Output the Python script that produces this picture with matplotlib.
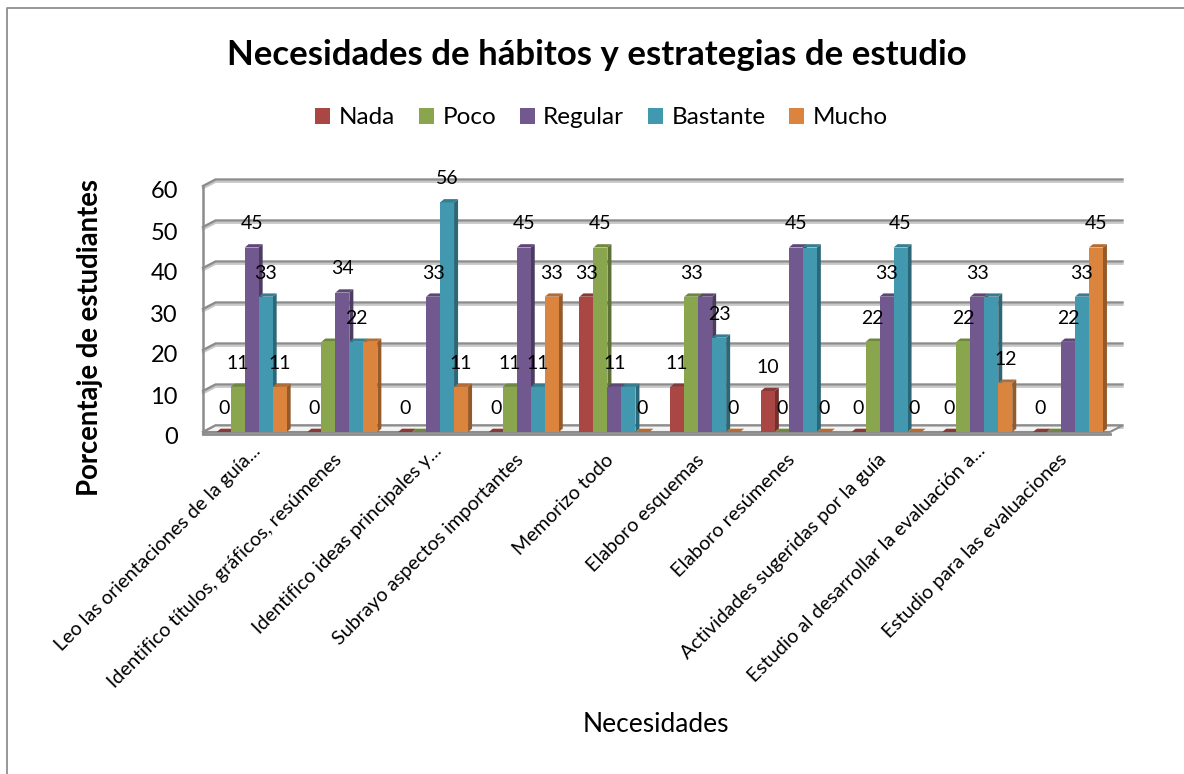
import matplotlib
matplotlib.use('Agg')
import matplotlib.pyplot as plt
import matplotlib.patheffects as pe
from matplotlib.colors import to_rgb
from matplotlib.patches import Polygon
from matplotlib.lines import Line2D
from matplotlib.transforms import ScaledTranslation
import numpy as np

plt.rcParams['font.family'] = ['Lato', 'DejaVu Sans']

titulo = 'Necesidades de hábitos y estrategias de estudio'
categorias = ['Leo las orientaciones de la guía...',
              'Identifico títulos, gráficos, resúmenes',
              'Identifico ideas principales y...',
              'Subrayo aspectos importantes',
              'Memorizo todo',
              'Elaboro esquemas',
              'Elaboro resúmenes',
              'Actividades sugeridas por la guía',
              'Estudio al desarrollar la evaluación a...',
              'Estudio para las evaluaciones']
nada = [0, 0, 0, 0, 33, 11, 10, 0, 0, 0]
poco = [11, 22, 0, 11, 45, 33, 0, 22, 22, 0]
regular = [45, 34, 33, 45, 11, 33, 45, 33, 33, 22]
bastante = [33, 22, 56, 11, 11, 23, 45, 45, 33, 33]
mucho = [11, 22, 11, 33, 0, 0, 0, 0, 12, 45]
series = ['Nada', 'Poco', 'Regular', 'Bastante', 'Mucho']
colores = ['#AA4643', '#89A54E', '#71588F', '#4198AF', '#DB843D']
ticks_y = [0, 10, 20, 30, 40, 50, 60]
# data labels the original chart does not show: (series, category)
sin_etiqueta = [(1, 1), (4, 1), (1, 2), (3, 4), (2, 5), (3, 6), (3, 8), (1, 9)]

W, H = 1184, 774
fig = plt.figure(figsize=(W / 100, H / 100), dpi=100)
# axes = front plane of the fake 3D box
ax = fig.add_axes([203 / W, 1 - 432 / H, 907 / W, 246 / H])
ax.set_xlim(-0.5, 9.5)
ax.set_ylim(0, 60)
for s in ax.spines.values():
    s.set_visible(False)
ax.patch.set_visible(False)

px = 1 / 90.7   # one pixel in x data units
py = 1 / 4.1    # one pixel in y data units
prof_x, prof_y = 12.5 * px, 6.5 * py   # wall depth
bar_dx, bar_dy = 4 * px, 3.3 * py      # bar depth
gris = '#8c8c8c'
sombra = [pe.SimpleLineShadow(offset=(0, -1.6), shadow_color='#c8c8c8', alpha=1), pe.Normal()]

# walls and gridlines
for t in ticks_y:
    ax.plot([-0.5, -0.5 + prof_x, 9.5 + prof_x], [t, t + prof_y, t + prof_y], color=gris, lw=1.7,
            clip_on=False, zorder=1, path_effects=sombra, solid_joinstyle='miter')
ax.plot([-0.5, -0.5], [0, 60], color=gris, lw=1.8, clip_on=False, zorder=1)
ax.add_patch(Polygon([(-0.5, 0), (9.5, 0), (9.5 + prof_x, prof_y), (-0.5 + prof_x, prof_y)],
                     closed=True, fc='#f4f4f4', ec=gris, lw=1.5, clip_on=False, zorder=1.5))
ax.plot([-0.5, 9.5], [-0.4, -0.4], color=gris, lw=2, clip_on=False, zorder=1.6)

# bars
ancho = 14 * px
x = np.arange(len(categorias))
valores = [nada, poco, regular, bastante, mucho]
centro = 3.3 * px
for j, (nombre, vals, c) in enumerate(zip(series, valores, colores)):
    xs = x + centro + (j - 2) * ancho
    base = np.array(to_rgb(c))
    ax.bar(xs, vals, width=ancho, color=c, label=nombre, zorder=3 + j, clip_on=False)
    for i, (xi, v) in enumerate(zip(xs, vals)):
        l, r = xi - ancho / 2, xi + ancho / 2
        # side face, top face
        ax.add_patch(Polygon([(r, 0), (r + bar_dx, bar_dy), (r + bar_dx, v + bar_dy), (r, v)], closed=True,
                             fc=base * 0.68, ec='none', zorder=2.9 + j, clip_on=False))
        ax.add_patch(Polygon([(l, v), (r, v), (r + bar_dx, v + bar_dy), (l + bar_dx, v + bar_dy)], closed=True,
                             fc=base * 0.82, ec='none', zorder=3.1 + j, clip_on=False))
        if (j, i) not in sin_etiqueta:
            ax.annotate(str(v), (xi, v), xytext=(0, 17), textcoords='offset points', ha='center', va='center',
                        fontsize=14, color='black', zorder=20)

ax.set_yticks(ticks_y)
ax.tick_params(axis='y', length=0, pad=18, labelsize=17)
ax.set_xticks(x)
ax.set_xticklabels(categorias, rotation=45, ha='right', va='center', rotation_mode='anchor', fontsize=14.2)
ax.tick_params(axis='x', length=0, pad=18)

# y tick labels sit a bit below their gridline, cut-off category labels reach higher
for lab in ax.get_yticklabels():
    lab.set_transform(lab.get_transform() + ScaledTranslation(0, -0.04, fig.dpi_scale_trans))
for lab in ax.get_xticklabels():
    if lab.get_text().endswith('...'):
        lab.set_transform(lab.get_transform() + ScaledTranslation(0.09, 0.09, fig.dpi_scale_trans))

ax.set_ylabel('Porcentaje de estudiantes', fontsize=19.8, fontweight='bold', va='center')
ax.yaxis.set_label_coords((90 - 203) / 907, (432 - 338) / 246)
ax.set_xlabel('Necesidades', fontsize=19, va='center')
ax.xaxis.set_label_coords((656 - 203) / 907, (432 - 724) / 246)

fig.text(597 / W, 1 - 55 / H, titulo, fontsize=25, fontweight='bold', ha='center', va='center')
fig.legend(loc='center', bbox_to_anchor=(601.5 / W, 1 - 118 / H), ncol=5, frameon=False, fontsize=17.5,
           handlelength=0.62, handleheight=0.62, handletextpad=0.35, columnspacing=0.97)

# picture frame, only top and left show
fig.add_artist(Line2D([7 / W, 7 / W, 1], [0, 1 - 8 / H, 1 - 8 / H], color='#8f8f8f', lw=1.3))

fig.savefig('out.png', dpi=100)
